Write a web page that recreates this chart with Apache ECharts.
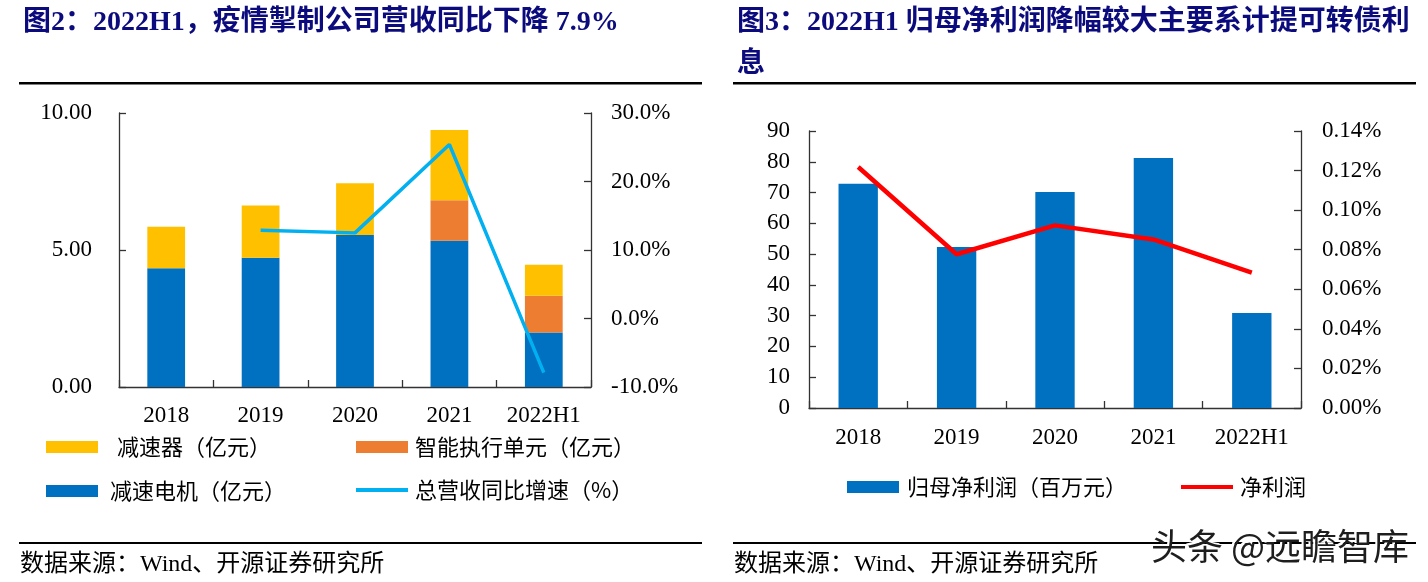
<!DOCTYPE html>
<html>
<head>
<meta charset="utf-8">
<script src="https://cdn.jsdelivr.net/npm/echarts@6/dist/echarts.min.js"></script>
<style>
html,body{margin:0;padding:0;background:#fff;}
#c{width:1428px;height:582px;}
</style>
</head>
<body>
<div id="c"></div>
<script>
// ---- data ----
const categories = ['2018', '2019', '2020', '2021', '2022H1'];
const reducer = [1.52, 1.90, 1.89, 2.56, 1.13];      // 减速器（亿元）
const actuator = [null, null, null, 1.48, 1.34];     // 智能执行单元（亿元）
const motor = [4.33, 4.72, 5.55, 5.34, 1.99];        // 减速电机（亿元）
const growth = [null, 12.9, 12.5, 25.4, -7.9];       // 总营收同比增速（%）
const netProfit = [72.9, 52.3, 70.2, 81.2, 30.9];    // 归母净利润（百万元）
const netMargin = [0.1218, 0.0777, 0.0923, 0.0852, 0.0684]; // 净利润（%）

const title1 = '图2：2022H1，疫情掣制公司营收同比下降 7.9%';
const title2a = '图3：2022H1 归母净利润降幅较大主要系计提可转债利';
const title2b = '息';
const sourceText = '数据来源：Wind、开源证券研究所';
const watermark = '头条 @远瞻智库';

const SERIF = "'Liberation Serif','Noto Sans CJK SC'";
const CJK = "'Noto Sans CJK SC'";
const NAVY = '#0b0b7d';
const AX = '#333333';

function axisCommon() {
  return {
    axisLine: { show: true, lineStyle: { color: AX, width: 1.3 } },
    axisTick: { show: true, inside: true, length: 7, lineStyle: { color: AX, width: 1.3 } },
    splitLine: { show: false },
    axisLabel: { color: '#000', fontFamily: SERIF, fontSize: 23 }
  };
}
function legendAt(name, left, cy, w, h, pad) {
  return {
    data: [{ name: name, icon: 'rect' }], left: left, top: cy - 12, padding: 0,
    itemWidth: w, itemHeight: h, itemGap: 0, selectedMode: false,
    textStyle: { fontFamily: CJK, fontSize: 22, lineHeight: 24, color: '#000', padding: [0, 0, 0, pad] }
  };
}

const chart = echarts.init(document.getElementById('c'), null, { renderer: 'canvas' });

const xAxisL = Object.assign(axisCommon(), {
  type: 'category', data: categories, gridIndex: 0,
  axisTick: { show: true, inside: true, length: 7, alignWithLabel: false, lineStyle: { color: AX, width: 1.3 } }
});
xAxisL.axisLabel = { color: '#000', fontFamily: SERIF, fontSize: 23, margin: 17, interval: 0 };
const xAxisR = Object.assign(axisCommon(), {
  type: 'category', data: categories, gridIndex: 1,
  axisTick: { show: true, inside: true, length: 7, alignWithLabel: false, lineStyle: { color: AX, width: 1.3 } }
});
xAxisR.axisLabel = { color: '#000', fontFamily: SERIF, fontSize: 23, margin: 18, interval: 0 };

const yL0 = Object.assign(axisCommon(), { type: 'value', gridIndex: 0, position: 'left', min: 0, max: 10, interval: 5 });
yL0.axisLabel = { color: '#000', fontFamily: SERIF, fontSize: 23, margin: 27, formatter: v => v.toFixed(2) };
const yL1 = Object.assign(axisCommon(), { type: 'value', gridIndex: 0, position: 'right', min: -10, max: 30, interval: 10 });
yL1.axisLabel = { color: '#000', fontFamily: SERIF, fontSize: 23, margin: 20, formatter: v => v.toFixed(1) + '%' };
const yR0 = Object.assign(axisCommon(), { type: 'value', gridIndex: 1, position: 'left', min: 0, max: 90, interval: 10 });
yR0.axisLabel = { color: '#000', fontFamily: SERIF, fontSize: 23, margin: 19 };
const yR1 = Object.assign(axisCommon(), { type: 'value', gridIndex: 1, position: 'right', min: 0, max: 0.14, interval: 0.02 });
yR1.axisLabel = { color: '#000', fontFamily: SERIF, fontSize: 23, margin: 21, formatter: v => v.toFixed(2) + '%' };

const option = {
  animation: false,
  backgroundColor: '#fff',
  grid: [
    { left: 119, top: 113, width: 472, height: 274 },
    { left: 809, top: 131, width: 492, height: 277 }
  ],
  xAxis: [xAxisL, xAxisR],
  yAxis: [yL0, yL1, yR0, yR1],
  legend: [
    legendAt('减速器（亿元）', 46, 447, 52, 12, 14),
    legendAt('智能执行单元（亿元）', 356, 447, 52, 12, 2),
    legendAt('减速电机（亿元）', 46, 491, 52, 12, 7),
    legendAt('总营收同比增速（%）', 356, 490, 52, 4, 2),
    legendAt('归母净利润（百万元）', 847, 487, 52, 12, 3),
    legendAt('净利润', 1181, 487, 52, 4, 2)
  ],
  series: [
    { name: '减速电机（亿元）', type: 'bar', stack: 'rev', xAxisIndex: 0, yAxisIndex: 0, barWidth: '40%', data: motor, itemStyle: { color: '#0070C0' } },
    { name: '智能执行单元（亿元）', type: 'bar', stack: 'rev', xAxisIndex: 0, yAxisIndex: 0, barWidth: '40%', data: actuator, itemStyle: { color: '#ED7D31' } },
    { name: '减速器（亿元）', type: 'bar', stack: 'rev', xAxisIndex: 0, yAxisIndex: 0, barWidth: '40%', data: reducer, itemStyle: { color: '#FFC000' } },
    { name: '总营收同比增速（%）', type: 'line', xAxisIndex: 0, yAxisIndex: 1, data: growth, symbol: 'none', showSymbol: false,
      lineStyle: { color: '#00B0F0', width: 3.5 }, itemStyle: { color: '#00B0F0' } },
    { name: '归母净利润（百万元）', type: 'bar', xAxisIndex: 1, yAxisIndex: 2, barWidth: '40%', data: netProfit, itemStyle: { color: '#0070C0' } },
    { name: '净利润', type: 'line', xAxisIndex: 1, yAxisIndex: 3, data: netMargin, symbol: 'none', showSymbol: false,
      lineStyle: { color: '#FF0000', width: 4.5 }, itemStyle: { color: '#FF0000' } }
  ],
  graphic: [
    { type: 'text', style: { x: 23, y: 23, text: title1, font: "bold 28px " + SERIF, fill: NAVY, textAlign: 'left', textVerticalAlign: 'middle' } },
    { type: 'text', style: { x: 737, y: 23, text: title2a, font: "bold 28px " + SERIF, fill: NAVY, textAlign: 'left', textVerticalAlign: 'middle' } },
    { type: 'text', style: { x: 737, y: 65, text: title2b, font: "bold 28px " + SERIF, fill: NAVY, textAlign: 'left', textVerticalAlign: 'middle' } },
    { type: 'rect', shape: { x: 19, y: 82, width: 683, height: 2.5 }, style: { fill: '#000' } },
    { type: 'rect', shape: { x: 733, y: 82, width: 683, height: 2.5 }, style: { fill: '#000' } },
    { type: 'rect', shape: { x: 19, y: 542, width: 683, height: 2 }, style: { fill: '#000' } },
    { type: 'rect', shape: { x: 733, y: 542, width: 683, height: 2 }, style: { fill: '#000' } },
    { type: 'text', style: { x: 20, y: 565, text: sourceText, font: "24px " + SERIF, fill: '#000', textAlign: 'left', textVerticalAlign: 'middle' } },
    { type: 'text', style: { x: 734, y: 565, text: sourceText, font: "24px " + SERIF, fill: '#000', textAlign: 'left', textVerticalAlign: 'middle' } },
    { type: 'text', z: 10, style: { x: 1149, y: 544, text: watermark, font: "36px " + CJK, fill: '#ffffff', textAlign: 'left', textVerticalAlign: 'middle' } },
    { type: 'text', z: 11, style: { x: 1151, y: 546, text: watermark, font: "36px " + CJK, fill: '#1e1e1e', textAlign: 'left', textVerticalAlign: 'middle' } }
  ]
};
chart.setOption(option);
</script>
</body>
</html>
